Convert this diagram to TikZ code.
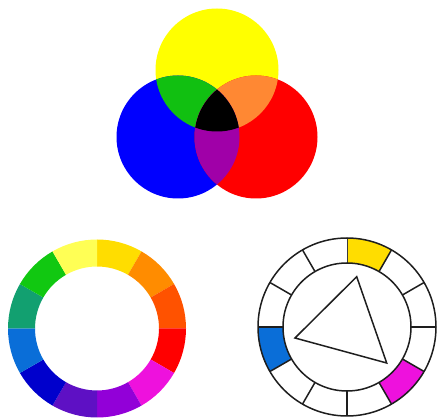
\documentclass[tikz,border=0pt]{standalone}
\definecolor{cyel}{HTML}{FFFF00}
\definecolor{cblu}{HTML}{0000FF}
\definecolor{cred}{HTML}{FF0000}
\definecolor{cgrn}{HTML}{11C011}
\definecolor{corg}{HTML}{FF8833}
\definecolor{cpur}{HTML}{A000A8}
\definecolor{wgold}{HTML}{FFDD00}
\definecolor{worange}{HTML}{FF8C00}
\definecolor{wredorange}{HTML}{FF5200}
\definecolor{wred}{HTML}{FF0000}
\definecolor{wmagenta}{HTML}{EE11DD}
\definecolor{wpurple}{HTML}{9200D8}
\definecolor{wviolet}{HTML}{5E10C4}
\definecolor{wblue}{HTML}{0000CC}
\definecolor{wazure}{HTML}{0A6ED8}
\definecolor{wteal}{HTML}{12A070}
\definecolor{wgreen}{HTML}{11C811}
\definecolor{wlyellow}{HTML}{FFFF55}
\definecolor{wline}{HTML}{1E1E1E}
\tikzset{
  wheelline/.style={draw=wline, line width=1.5pt},
}
\begin{document}
\begin{tikzpicture}[x=1pt,y=1pt]
\useasboundingbox (0,0) rectangle (440,418);
% --- three overlapping circles ---
\def\R{61.5}
\coordinate (Y) at (217,348);
\coordinate (B) at (178,281);
\coordinate (Rd) at (256,281);
\fill[cyel] (Y) circle (\R);
\fill[cblu] (B) circle (\R);
\fill[cred] (Rd) circle (\R);
\begin{scope}
  \clip (Y) circle (\R);
  \fill[cgrn] (B) circle (\R);
  \fill[corg] (Rd) circle (\R);
\end{scope}
\begin{scope}
  \clip (B) circle (\R);
  \fill[cpur] (Rd) circle (\R);
\end{scope}
\begin{scope}
  \clip (Y) circle (\R);
  \clip (B) circle (\R);
  \fill[black] (Rd) circle (\R);
\end{scope}
% --- colour wheel ---
\begin{scope}[shift={(97,89.5)}]
  \foreach \c [count=\i from 0] in {wgold,worange,wredorange,wred,wmagenta,wpurple,wviolet,wblue,wazure,wteal,wgreen,wlyellow}{
    \pgfmathsetmacro\a{90-30*\i}
    \pgfmathsetmacro\b{60-30*\i}
    \fill[\c] (\a:62) -- (\a:89) arc[start angle=\a, end angle=\b, radius=89] -- (\b:62) arc[start angle=\b, end angle=\a, radius=62] -- cycle;
  }
\end{scope}
% --- triad wheel ---
\begin{scope}[shift={(347,91)}]
  \foreach \c [count=\i from 0] in {wgold,white,white,white,wmagenta,white,white,white,wazure,white,white,white}{
    \pgfmathsetmacro\a{90-30*\i}
    \pgfmathsetmacro\b{60-30*\i}
    \fill[\c] (\a:64) -- (\a:89) arc[start angle=\a, end angle=\b, radius=89] -- (\b:64) arc[start angle=\b, end angle=\a, radius=64] -- cycle;
    \draw[wheelline] (\a:64) -- (\a:89);
  }
  \draw[wheelline] (0,0) circle (89);
  \draw[wheelline] (0,0) circle (64);
  \coordinate (t1) at (9.7,50.3);
  \coordinate (t2) at (-52,-11);
  \coordinate (t3) at (39.7,-36);
  \draw[wheelline, line join=miter] (t1) -- (t2) -- (t3) -- cycle;
\end{scope}
\end{tikzpicture}
\end{document}
